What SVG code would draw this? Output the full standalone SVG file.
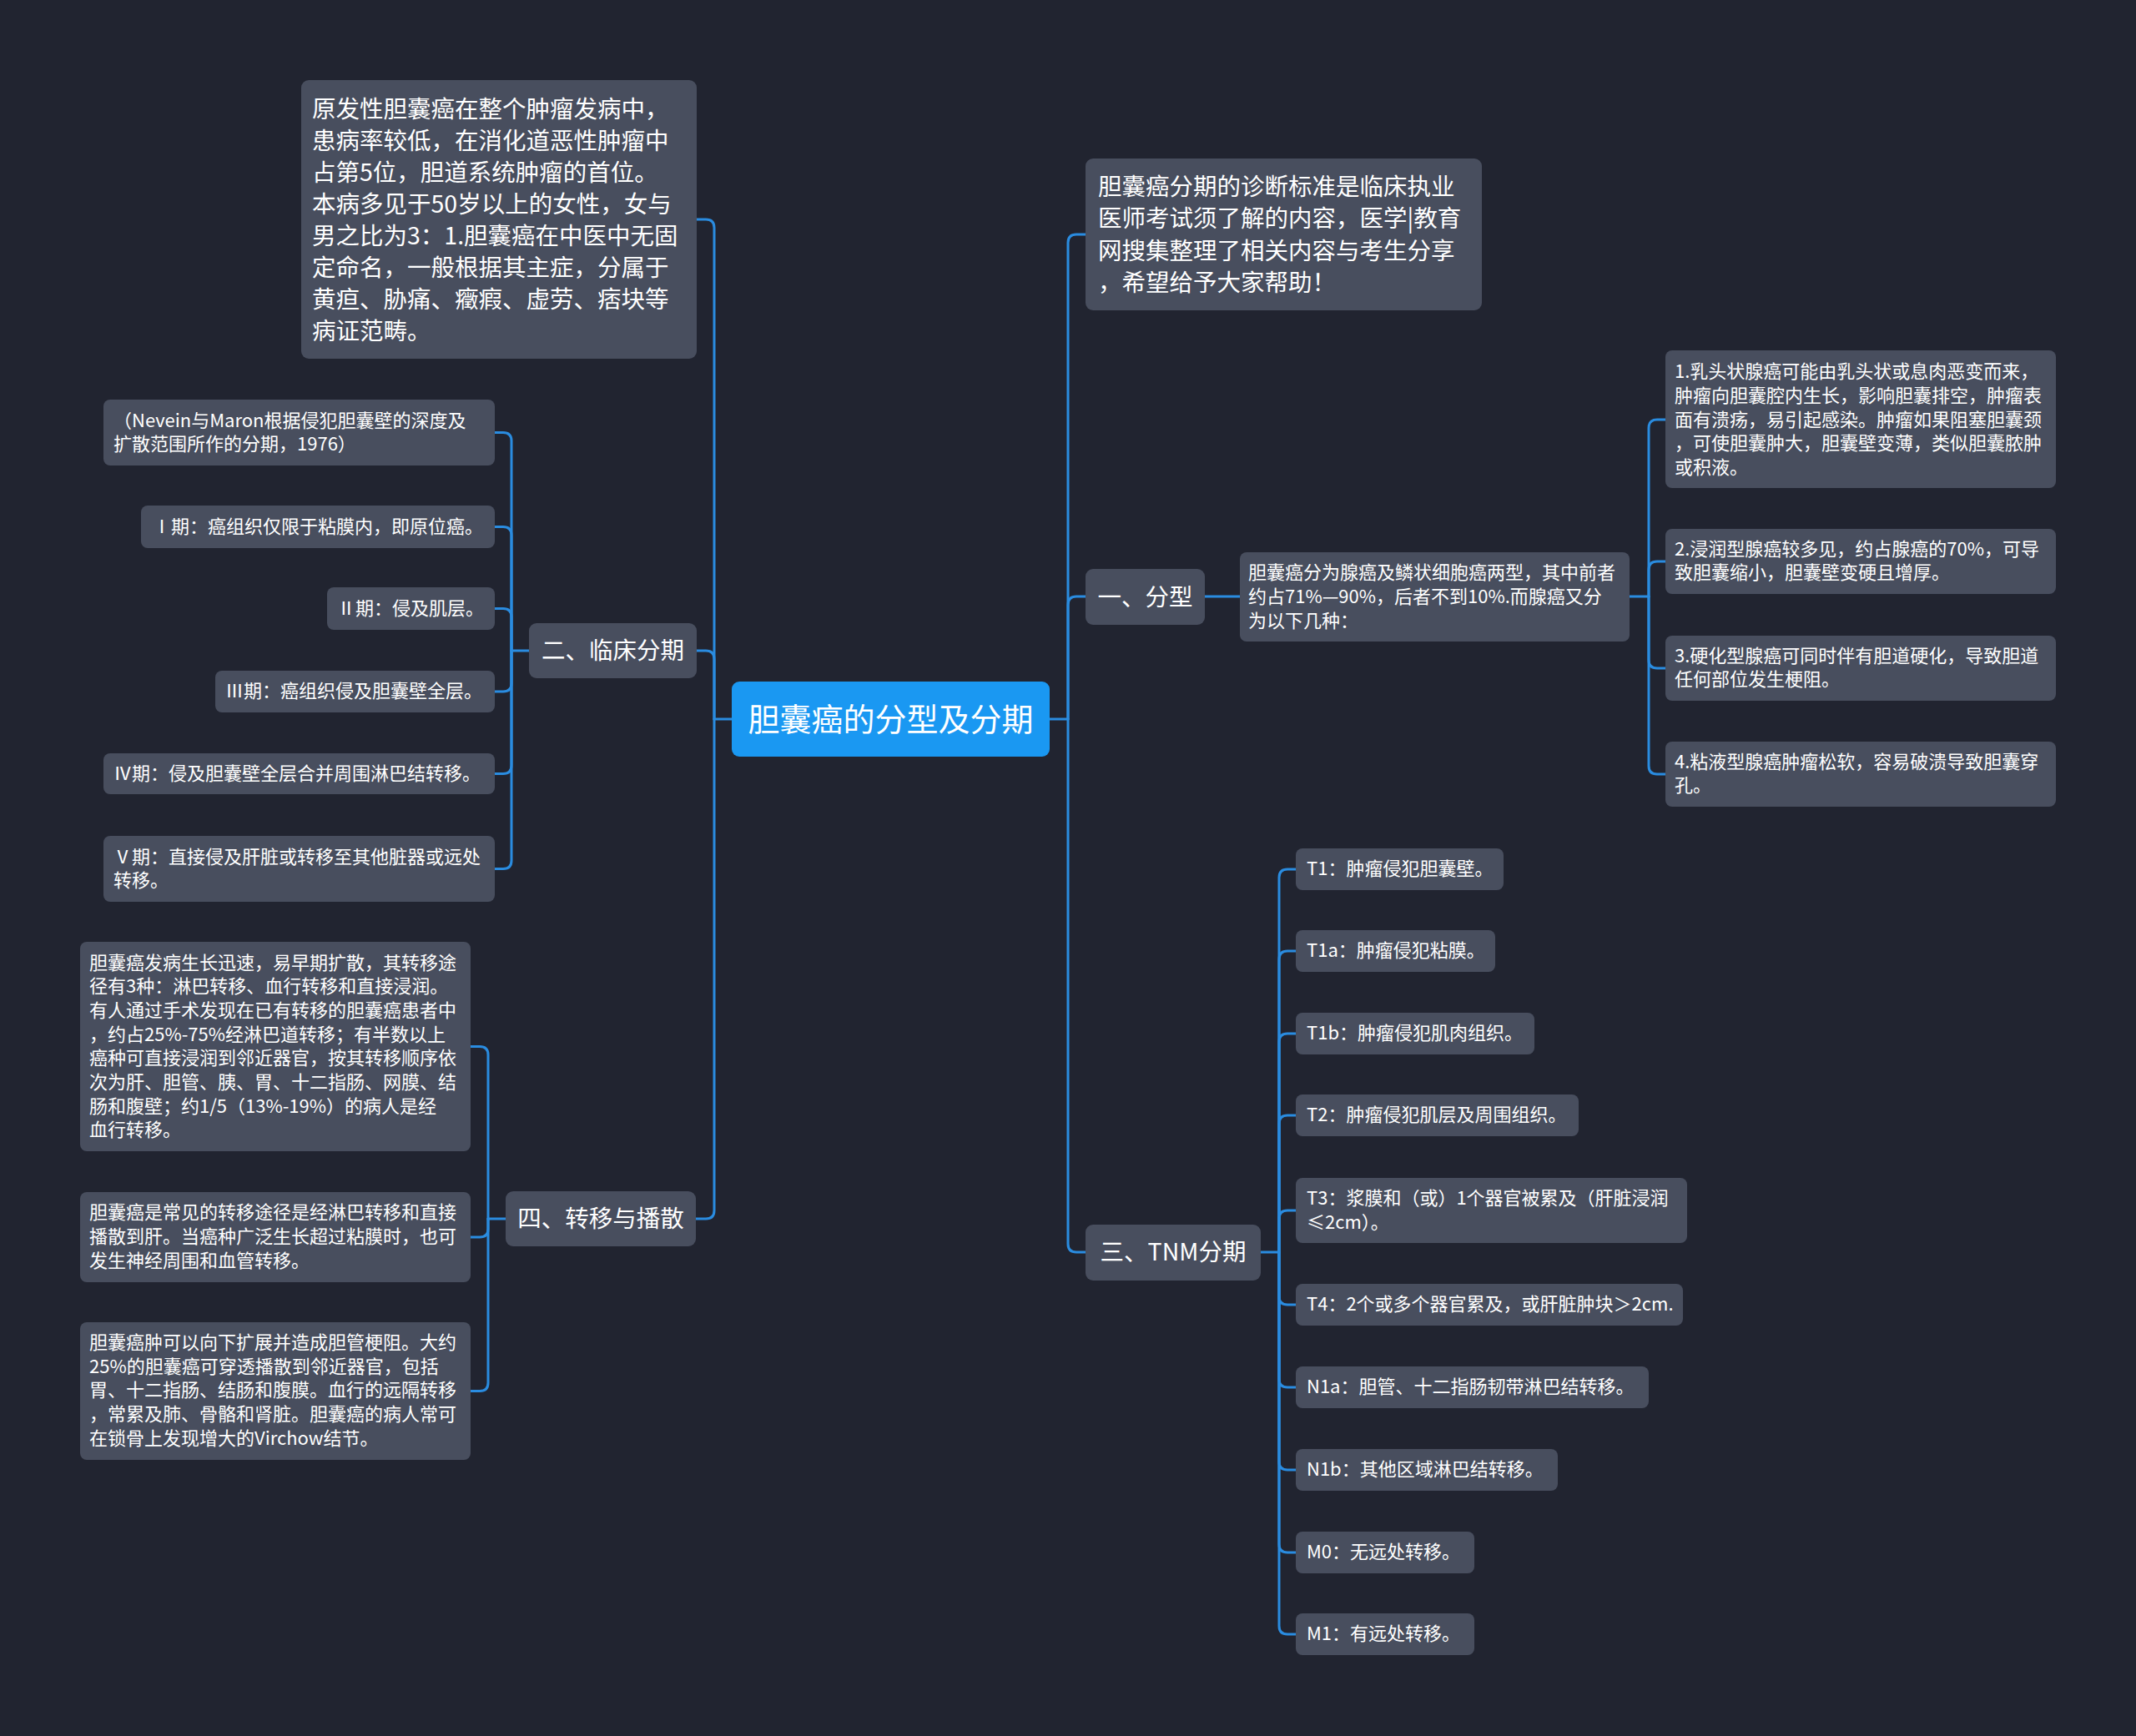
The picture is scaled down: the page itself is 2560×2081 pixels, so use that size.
<svg xmlns="http://www.w3.org/2000/svg" width="2560" height="2081" viewBox="0 0 2560 2081">
<style>
.bg{fill:#212430}
.box{fill:#484e5e}
.root{fill:#1a98f2}
.c{fill:none;stroke:#2a8ce0;stroke-width:3;stroke-linecap:round}
text{font-family:"Noto Sans CJK SC","Noto Sans",sans-serif;fill:#ffffff;dominant-baseline:central;transform:translateY(-3px)}
.f22{font-size:22px}
.f28{font-size:28.5px}
.f38{font-size:38px}
.mid{text-anchor:middle}
</style>
<rect class="bg" x="0" y="0" width="2560" height="2081"/>
<g id="connectors">
<path class="c" d="M877 862 H856"/>
<path class="c" d="M856 862 V273 Q856 263 846 263 H835"/>
<path class="c" d="M856 862 V790 Q856 780 846 780 H835"/>
<path class="c" d="M856 862 V1451 Q856 1461 846 1461 H834"/>
<path class="c" d="M1258 862 H1280"/>
<path class="c" d="M1280 862 V291 Q1280 281 1290 281 H1301"/>
<path class="c" d="M1280 862 V725 Q1280 715 1290 715 H1301"/>
<path class="c" d="M1280 862 V1491 Q1280 1501 1290 1501 H1301"/>
<path class="c" d="M1444 715 H1486"/>
<path class="c" d="M1953 715 H1976"/>
<path class="c" d="M1976 715 V513 Q1976 503 1986 503 H1996"/>
<path class="c" d="M1976 715 V683 Q1976 673 1986 673 H1996"/>
<path class="c" d="M1976 715 V791 Q1976 801 1986 801 H1996"/>
<path class="c" d="M1976 715 V918 Q1976 928 1986 928 H1996"/>
<path class="c" d="M1511 1501 H1533"/>
<path class="c" d="M1533 1501 V1052 Q1533 1042 1543 1042 H1553"/>
<path class="c" d="M1533 1501 V1150 Q1533 1140 1543 1140 H1553"/>
<path class="c" d="M1533 1501 V1249 Q1533 1239 1543 1239 H1553"/>
<path class="c" d="M1533 1501 V1347 Q1533 1337 1543 1337 H1553"/>
<path class="c" d="M1533 1501 V1461 Q1533 1451 1543 1451 H1553"/>
<path class="c" d="M1533 1501 V1554 Q1533 1564 1543 1564 H1553"/>
<path class="c" d="M1533 1501 V1653 Q1533 1663 1543 1663 H1553"/>
<path class="c" d="M1533 1501 V1752 Q1533 1762 1543 1762 H1553"/>
<path class="c" d="M1533 1501 V1851 Q1533 1861 1543 1861 H1553"/>
<path class="c" d="M1533 1501 V1949 Q1533 1959 1543 1959 H1553"/>
<path class="c" d="M634 780 H613"/>
<path class="c" d="M613 780 V528.5 Q613 518.5 603 518.5 H593"/>
<path class="c" d="M613 780 V641.5 Q613 631.5 603 631.5 H593"/>
<path class="c" d="M613 780 V739.5 Q613 729.5 603 729.5 H593"/>
<path class="c" d="M613 780 V819 Q613 829 603 829 H593"/>
<path class="c" d="M613 780 V917.5 Q613 927.5 603 927.5 H593"/>
<path class="c" d="M613 780 V1031.5 Q613 1041.5 603 1041.5 H593"/>
<path class="c" d="M606 1461 H585"/>
<path class="c" d="M585 1461 V1264.5 Q585 1254.5 575 1254.5 H564"/>
<path class="c" d="M585 1461 V1473 Q585 1483 575 1483 H564"/>
<path class="c" d="M585 1461 V1657.5 Q585 1667.5 575 1667.5 H564"/>
</g>
<g id="root">
<rect class="root" x="877" y="817" width="381" height="90" rx="9"/>
<text class="f38 mid" x="1067.5" y="862">胆囊癌的分型及分期</text>
</g>
<g id="intro-left">
<rect class="box" x="361" y="96" width="474" height="334" rx="9"/>
<text class="f28" x="374" y="131">原发性胆囊癌在整个肿瘤发病中，</text>
<text class="f28" x="374" y="169">患病率较低，在消化道恶性肿瘤中</text>
<text class="f28" x="374" y="207">占第5位，胆道系统肿瘤的首位。</text>
<text class="f28" x="374" y="245">本病多见于50岁以上的女性，女与</text>
<text class="f28" x="374" y="283">男之比为3：1.胆囊癌在中医中无固</text>
<text class="f28" x="374" y="321">定命名，一般根据其主症，分属于</text>
<text class="f28" x="374" y="359">黄疸、胁痛、癥瘕、虚劳、痞块等</text>
<text class="f28" x="374" y="397">病证范畴。</text>
</g>
<g id="clinical">
<rect class="box" x="634" y="747" width="201" height="66" rx="9"/>
<text class="f28 mid" x="734.5" y="780">二、临床分期</text>
</g>
<g id="clin-nevein">
<rect class="box" x="124" y="479" width="469" height="79" rx="8"/>
<text class="f22" x="136" y="504.5">（Nevein与Maron根据侵犯胆囊壁的深度及</text>
<text class="f22" x="136" y="532.5">扩散范围所作的分期，1976）</text>
</g>
<g id="clin-1">
<rect class="box" x="169" y="606" width="424" height="51" rx="8"/>
<text class="f22" x="183" y="631.5">Ⅰ期：癌组织仅限于粘膜内，即原位癌。</text>
</g>
<g id="clin-2">
<rect class="box" x="392" y="704" width="201" height="51" rx="8"/>
<text class="f22" x="404" y="729.5">Ⅱ期：侵及肌层。</text>
</g>
<g id="clin-3">
<rect class="box" x="258" y="804" width="335" height="50" rx="8"/>
<text class="f22" x="270" y="829">Ⅲ期：癌组织侵及胆囊壁全层。</text>
</g>
<g id="clin-4">
<rect class="box" x="124" y="903" width="469" height="49" rx="8"/>
<text class="f22" x="136" y="927.5">Ⅳ期：侵及胆囊壁全层合并周围淋巴结转移。</text>
</g>
<g id="clin-5">
<rect class="box" x="124" y="1002" width="469" height="79" rx="8"/>
<text class="f22" x="136" y="1027.5">Ⅴ期：直接侵及肝脏或转移至其他脏器或远处</text>
<text class="f22" x="136" y="1055.5">转移。</text>
</g>
<g id="spread">
<rect class="box" x="606" y="1428" width="228" height="66" rx="9"/>
<text class="f28 mid" x="720" y="1461">四、转移与播散</text>
</g>
<g id="spread-a">
<rect class="box" x="96" y="1129" width="468" height="251" rx="8"/>
<text class="f22" x="107" y="1154.5">胆囊癌发病生长迅速，易早期扩散，其转移途</text>
<text class="f22" x="107" y="1183.2">径有3种：淋巴转移、血行转移和直接浸润。</text>
<text class="f22" x="107" y="1211.9">有人通过手术发现在已有转移的胆囊癌患者中</text>
<text class="f22" x="107" y="1240.6">，约占25%-75%经淋巴道转移；有半数以上</text>
<text class="f22" x="107" y="1269.3">癌种可直接浸润到邻近器官，按其转移顺序依</text>
<text class="f22" x="107" y="1298">次为肝、胆管、胰、胃、十二指肠、网膜、结</text>
<text class="f22" x="107" y="1326.7">肠和腹壁；约1/5（13%-19%）的病人是经</text>
<text class="f22" x="107" y="1355.4">血行转移。</text>
</g>
<g id="spread-b">
<rect class="box" x="96" y="1429" width="468" height="108" rx="8"/>
<text class="f22" x="107" y="1454.3">胆囊癌是常见的转移途径是经淋巴转移和直接</text>
<text class="f22" x="107" y="1483">播散到肝。当癌种广泛生长超过粘膜时，也可</text>
<text class="f22" x="107" y="1511.7">发生神经周围和血管转移。</text>
</g>
<g id="spread-c">
<rect class="box" x="96" y="1585" width="468" height="165" rx="8"/>
<text class="f22" x="107" y="1610">胆囊癌肿可以向下扩展并造成胆管梗阻。大约</text>
<text class="f22" x="107" y="1638.7">25%的胆囊癌可穿透播散到邻近器官，包括</text>
<text class="f22" x="107" y="1667.4">胃、十二指肠、结肠和腹膜。血行的远隔转移</text>
<text class="f22" x="107" y="1696.1">，常累及肺、骨骼和肾脏。胆囊癌的病人常可</text>
<text class="f22" x="107" y="1724.8">在锁骨上发现增大的Virchow结节。</text>
</g>
<g id="intro-right">
<rect class="box" x="1301" y="190" width="475" height="182" rx="9"/>
<text class="f28" x="1316" y="224">胆囊癌分期的诊断标准是临床执业</text>
<text class="f28" x="1316" y="262.5">医师考试须了解的内容，医学|教育</text>
<text class="f28" x="1316" y="301">网搜集整理了相关内容与考生分享</text>
<text class="f28" x="1316" y="339.5">，希望给予大家帮助！</text>
</g>
<g id="types">
<rect class="box" x="1301" y="682" width="143" height="67" rx="9"/>
<text class="f28 mid" x="1372.5" y="716">一、分型</text>
</g>
<g id="types-desc">
<rect class="box" x="1486" y="662" width="467" height="107" rx="8"/>
<text class="f22" x="1496" y="687">胆囊癌分为腺癌及鳞状细胞癌两型，其中前者</text>
<text class="f22" x="1496" y="716">约占71%—90%，后者不到10%.而腺癌又分</text>
<text class="f22" x="1496" y="745">为以下几种：</text>
</g>
<g id="type-1">
<rect class="box" x="1996" y="420" width="468" height="165" rx="8"/>
<text class="f22" x="2007" y="446">1.乳头状腺癌可能由乳头状或息肉恶变而来，</text>
<text class="f22" x="2007" y="474.8">肿瘤向胆囊腔内生长，影响胆囊排空，肿瘤表</text>
<text class="f22" x="2007" y="503.5">面有溃疡，易引起感染。肿瘤如果阻塞胆囊颈</text>
<text class="f22" x="2007" y="532.2">，可使胆囊肿大，胆囊壁变薄，类似胆囊脓肿</text>
<text class="f22" x="2007" y="561">或积液。</text>
</g>
<g id="type-2">
<rect class="box" x="1996" y="634" width="468" height="78" rx="8"/>
<text class="f22" x="2007" y="658.6">2.浸润型腺癌较多见，约占腺癌的70%，可导</text>
<text class="f22" x="2007" y="687.4">致胆囊缩小，胆囊壁变硬且增厚。</text>
</g>
<g id="type-3">
<rect class="box" x="1996" y="762" width="468" height="78" rx="8"/>
<text class="f22" x="2007" y="786.6">3.硬化型腺癌可同时伴有胆道硬化，导致胆道</text>
<text class="f22" x="2007" y="815.4">任何部位发生梗阻。</text>
</g>
<g id="type-4">
<rect class="box" x="1996" y="889" width="468" height="78" rx="8"/>
<text class="f22" x="2007" y="913.6">4.粘液型腺癌肿瘤松软，容易破溃导致胆囊穿</text>
<text class="f22" x="2007" y="942.4">孔。</text>
</g>
<g id="tnm">
<rect class="box" x="1301" y="1468" width="210" height="67" rx="9"/>
<text class="f28 mid" x="1406" y="1501">三、TNM分期</text>
</g>
<g id="tnm-t1">
<rect class="box" x="1553" y="1017" width="249" height="50" rx="8"/>
<text class="f22" x="1566" y="1042">T1：肿瘤侵犯胆囊壁。</text>
</g>
<g id="tnm-t1a">
<rect class="box" x="1553" y="1115" width="239" height="50" rx="8"/>
<text class="f22" x="1566" y="1140">T1a：肿瘤侵犯粘膜。</text>
</g>
<g id="tnm-t1b">
<rect class="box" x="1553" y="1214" width="286" height="50" rx="8"/>
<text class="f22" x="1566" y="1239">T1b：肿瘤侵犯肌肉组织。</text>
</g>
<g id="tnm-t2">
<rect class="box" x="1553" y="1312" width="339" height="50" rx="8"/>
<text class="f22" x="1566" y="1337">T2：肿瘤侵犯肌层及周围组织。</text>
</g>
<g id="tnm-t3">
<rect class="box" x="1553" y="1412" width="469" height="78" rx="8"/>
<text class="f22" x="1566" y="1437">T3：浆膜和（或）1个器官被累及（肝脏浸润</text>
<text class="f22" x="1566" y="1466">≤2cm）。</text>
</g>
<g id="tnm-t4">
<rect class="box" x="1553" y="1539" width="464" height="50" rx="8"/>
<text class="f22" x="1566" y="1564">T4：2个或多个器官累及，或肝脏肿块＞2cm.</text>
</g>
<g id="tnm-n1a">
<rect class="box" x="1553" y="1638" width="423" height="50" rx="8"/>
<text class="f22" x="1566" y="1663">N1a：胆管、十二指肠韧带淋巴结转移。</text>
</g>
<g id="tnm-n1b">
<rect class="box" x="1553" y="1737" width="314" height="50" rx="8"/>
<text class="f22" x="1566" y="1762">N1b：其他区域淋巴结转移。</text>
</g>
<g id="tnm-m0">
<rect class="box" x="1553" y="1836" width="214" height="50" rx="8"/>
<text class="f22" x="1566" y="1861">M0：无远处转移。</text>
</g>
<g id="tnm-m1">
<rect class="box" x="1553" y="1934" width="214" height="50" rx="8"/>
<text class="f22" x="1566" y="1959">M1：有远处转移。</text>
</g>
</svg>
